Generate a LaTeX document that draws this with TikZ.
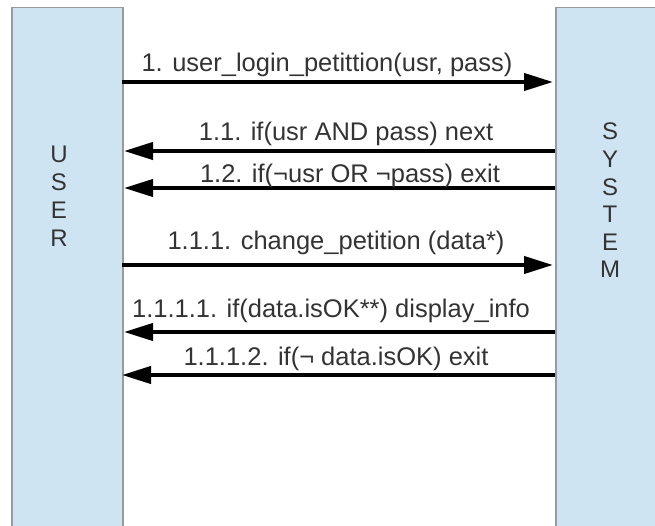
\documentclass[tikz,border=0pt]{standalone}
\usepackage{fontspec}
\setmainfont{Liberation Sans}
\usetikzlibrary{arrows.meta}
\definecolor{lanefill}{HTML}{CFE4F3}
\definecolor{laneline}{HTML}{9A9A9A}
\definecolor{txtgray}{HTML}{333333}
\tikzset{
	lane/.style={draw=laneline, fill=lanefill, line width=1.5pt, anchor=north west, inner sep=0pt},
	msg/.style={line width=4pt, -{Triangle[length=29pt,width=17pt]}},
	msgtext/.style={text=txtgray, font=\fontsize{25.5}{30}\selectfont, anchor=base, inner sep=0pt},
	letter/.style={text=txtgray, font=\fontsize{24}{28}\selectfont, anchor=base, inner sep=0pt}
}
\begin{document}
\begin{tikzpicture}[x=1pt, y=-1pt]
			\useasboundingbox (0,0) rectangle (655,526);
			\clip (0,0) rectangle (655,526);
			% lanes
			\node[lane, minimum width=111pt, minimum height=540pt] (user) at (11,7) {};
			\node[lane, minimum width=140pt, minimum height=540pt] (system) at (555,7) {};
			\foreach \c [count=\i] in {U,S,E,R}{
				\node[letter] (user\i) at (59, {135.3+27.7*\i}) {\c};
			}
			\foreach \c [count=\i] in {S,Y,S,T,E,M}{
				\node[letter] (sys\i) at (610, {112.4+27.6*\i}) {\c};
			}
			% end points of the messages
			\coordinate (u1) at (122,82);  \coordinate (s1) at (553,82);
			\coordinate (u2) at (124,151); \coordinate (s2) at (555,151);
			\coordinate (u3) at (124,188); \coordinate (s3) at (555,188);
			\coordinate (u4) at (122,265); \coordinate (s4) at (553,265);
			\coordinate (u5) at (124,332); \coordinate (s5) at (555,332);
			\coordinate (u6) at (122,375); \coordinate (s6) at (555,375);
			% messages
			\draw[msg] (u1) -- (s1);
			\node[msgtext] (m1) at (327,72) {1. user\_login\_petittion(usr, pass)};
			\draw[msg] (s2) -- (u2);
			\node[msgtext] (m2) at (346,141) {1.1. if(usr AND pass) next};
			\draw[msg] (s3) -- (u3);
			\node[msgtext] (m3) at (350,183) {1.2. if(¬usr OR ¬pass) exit};
			\draw[msg] (u4) -- (s4);
			\node[msgtext] (m4) at (336,250) {1.1.1. change\_petition (data*)};
			\draw[msg] (s5) -- (u5);
			\node[msgtext] (m5) at (331,317) {1.1.1.1. if(data.isOK**) display\_info};
			\draw[msg] (s6) -- (u6);
			\node[msgtext] (m6) at (336,365) {1.1.1.2. if(¬ data.isOK) exit};
		\end{tikzpicture}
\end{document}
